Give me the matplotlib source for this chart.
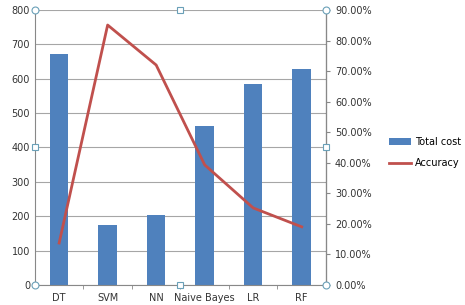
import matplotlib
matplotlib.use('Agg')
import matplotlib.pyplot as plt
from matplotlib.ticker import FuncFormatter, FixedLocator

models = ['DT', 'SVM', 'NN', 'Naive Bayes', 'LR', 'RF']
total_cost = [672, 175, 204, 463, 586, 627]
accuracy = [0.137, 0.851, 0.72, 0.393, 0.252, 0.19]

fig = plt.figure(figsize=(4.65, 3.05), dpi=100)
ax = fig.add_axes([0.075, 0.066, 0.626, 0.901])
ax2 = ax.twinx()

x = range(len(models))
bars = ax.bar(x, total_cost, width=0.38, color='#4F81BD', label='Total cost', zorder=2)
line, = ax2.plot(x, accuracy, color='#C0504D', lw=2, label='Accuracy')

ax.set_xlim(-0.5, len(models) - 0.5)
ax.set_ylim(0, 800)
ax.set_yticks(range(0, 801, 100))
ax2.set_ylim(0, 0.9)
ax2.set_yticks([i / 10 for i in range(10)])
ax2.yaxis.set_major_formatter(FuncFormatter(lambda v, p: '{:.2f}%'.format(v * 100)))

ax.set_xticks(list(x))
ax.set_xticklabels(models)
ax.xaxis.set_minor_locator(FixedLocator([i + 0.5 for i in range(len(models) - 1)]))
ax.grid(axis='y', color='#a6a6a6', lw=0.8, zorder=0)
ax.set_axisbelow(True)

for a in (ax, ax2):
    a.spines['top'].set_visible(False)
    a.tick_params(labelsize=7, colors='#333333', length=3, color='#888888')
ax.spines['left'].set_color('#888888')
ax.spines['bottom'].set_color('#888888')
ax2.spines['right'].set_color('#888888')
ax2.spines['left'].set_visible(False)
ax2.spines['bottom'].set_visible(False)
ax.tick_params(axis='x', which='major', length=0, pad=6)
ax.tick_params(axis='x', which='minor', length=3, color='#888888')
ax.tick_params(axis='y', length=0)

# selection handles like in the screenshot
for (hx, hy, m) in [(0, 0, 'o'), (1, 0, 'o'), (0, 1, 'o'), (1, 1, 'o'),
                    (0.5, 0, 's'), (0.5, 1, 's'), (0, 0.5, 's'), (1, 0.5, 's')]:
    ax2.plot(hx, hy, marker=m, ms=5, mfc='white', mec='#6aa0b8', mew=0.8,
             transform=ax2.transAxes, clip_on=False, zorder=5)

fig.legend([bars, line], ['Total cost', 'Accuracy'], loc='center left',
           bbox_to_anchor=(0.818, 0.5), frameon=False, fontsize=7,
           handlelength=2.3, handletextpad=0.4, labelspacing=1.2)

fig.savefig('out.png', dpi=100)
